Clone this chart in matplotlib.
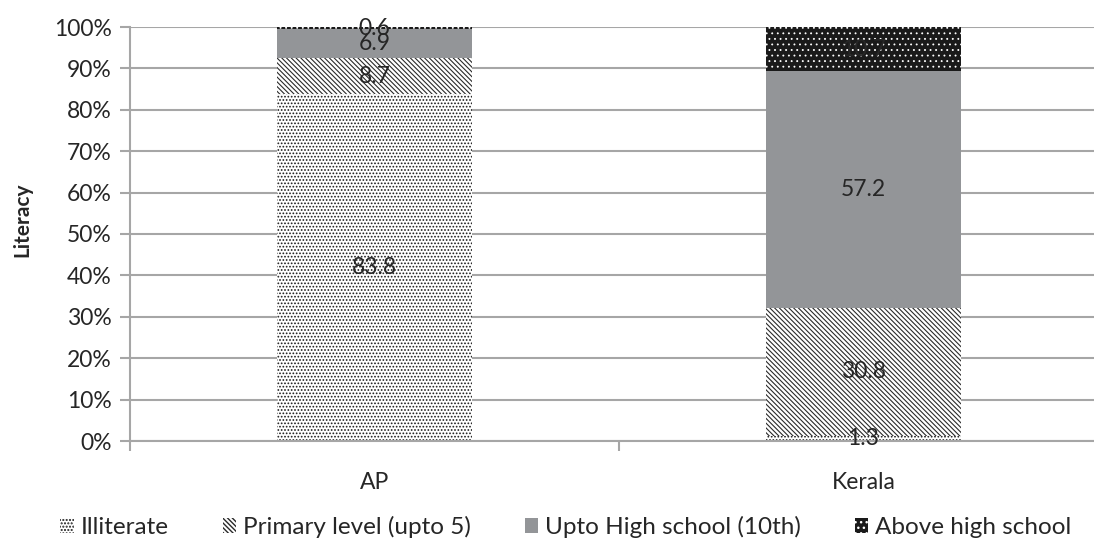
import matplotlib
matplotlib.use("Agg")
import matplotlib.pyplot as plt
import numpy as np

categories = ["AP", "Kerala"]
series_names = ["Illiterate", "Primary level (upto 5)", "Upto High school (10th)", "Above high school"]
illiterate = [83.8, 1.3]
primary = [8.7, 30.8]
high_school = [6.9, 57.2]
above_high = [0.6, 10.7]
y_ticks = [0, 10, 20, 30, 40, 50, 60, 70, 80, 90, 100]

plt.rcParams['font.family'] = ['Lato', 'DejaVu Sans']

W, H = 1094, 544
fig = plt.figure(figsize=(W / 100, H / 100), dpi=100)
left, right, top, bottom = 130, 1108, 27, 441
ax = fig.add_axes([left / W, 1 - bottom / H, (right - left) / W, (bottom - top) / H])

x = np.arange(len(categories))
width = 0.4
styles = [
    (dict(facecolor='white', edgecolor='#1a1a1a', hatch='.....'), 0.8),
    (dict(facecolor='white', edgecolor='#2a2a2a', hatch='\\' * 7), 0.8),
    (dict(facecolor='#939598', edgecolor='#939598', hatch=None), 1.0),
    (dict(facecolor='#1a1a1a', edgecolor='white', hatch='...'), 0.6),
]
data = [illiterate, primary, high_school, above_high]
bottoms = np.zeros(len(categories))
handles = []
fs = 16.5
for name, vals, (st, hlw) in zip(series_names, data, styles):
    vals = np.array(vals)
    with plt.rc_context({'hatch.linewidth': hlw}):
        b = ax.bar(x, vals, width, bottom=bottoms, linewidth=0, label=name, zorder=2, **st)
    handles.append(b)
    for xi, v, bt in zip(x, vals, bottoms):
        ax.text(xi, bt + v / 2, f"{v:g}", ha='center', va='center', fontsize=fs,
                color='#262626', zorder=3)
    bottoms += vals

ax.set_xlim(-0.5, 1.5)
ax.set_ylim(0, 100)
ax.set_yticks(y_ticks)
ax.set_yticklabels([f"{t}%" for t in y_ticks])
ax.yaxis.grid(True, color='#a6a6a6', linewidth=1.5, zorder=0)
ax.set_axisbelow(True)
ax.set_xticks(x)
ax.set_xticklabels(categories)
ax.set_xticks([-0.5, 0.5, 1.5], minor=True)
ax.tick_params(axis='x', which='major', length=0, pad=22, labelsize=fs, labelcolor='#262626')
ax.tick_params(axis='x', which='minor', length=7, width=1.5, color='#a6a6a6', direction='out')
ax.tick_params(axis='y', length=7, width=1.5, color='#a6a6a6', labelsize=fs,
               labelcolor='#262626', pad=6)
for s in ['top', 'right']:
    ax.spines[s].set_visible(False)
for s in ['left', 'bottom']:
    ax.spines[s].set_color('#a6a6a6')
    ax.spines[s].set_linewidth(1.5)

ax.set_ylabel("Literacy", fontsize=15, fontweight='bold', color='#262626',
              va='center', ha='center')
ax.yaxis.set_label_coords((22 - left) / (right - left), (bottom - 220) / (bottom - top))

fig.legend(handles=handles, labels=series_names, loc='center', ncol=4,
           bbox_to_anchor=(566 / W, 1 - 527 / H), frameon=False, fontsize=17.5,
           handlelength=0.55, handleheight=0.55, handletextpad=0.3, columnspacing=2.2,
           labelcolor='#262626')

fig.savefig("out.png", dpi=100)
